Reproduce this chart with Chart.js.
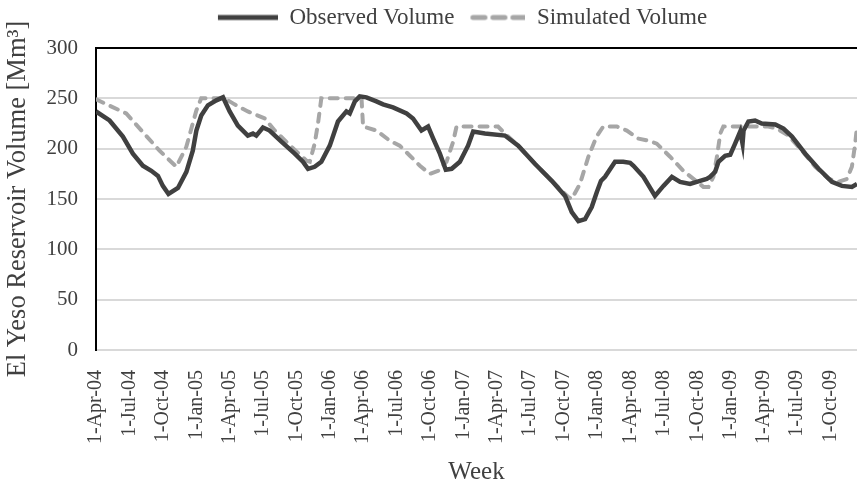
<!DOCTYPE html>
<html>
<head>
<meta charset="utf-8">
<script src="https://cdn.jsdelivr.net/npm/chart.js@4.4.1/dist/chart.umd.min.js"></script>
<style>
	html, body { margin: 0; padding: 0; background: #fff; }
	#wrap { width: 857px; height: 489px; }
</style>
</head>
<body>
<div id="wrap"><canvas id="yesoChart" width="857" height="489"></canvas></div>
<script>
// weeks since 1-Apr-04
var obsWeek = [0, 5.3, 10.5, 14.4, 18.3, 21.6, 24.2, 26.1, 28.3, 32.0, 35.3, 37.8, 39.2, 41.1, 43.7, 47.0, 49.6,
	52.2, 55.4, 59.3, 61.3, 62.6, 65.2, 67.8, 72.4, 77.6, 80.8, 82.8, 85.4, 88.0, 91.3, 94.5, 97.8, 99.1, 101.1, 103.0,
	105.6, 109.5, 112.1, 116.0, 121.3, 123.8, 127.1, 129.7, 131.7, 134.3, 136.6, 138.9, 142.1, 145.3, 147.3, 151.9,
	159.7, 164.9, 171.4, 178.0, 183.2, 185.8, 188.4, 191.0, 193.6, 195.6, 197.2, 198.8, 202.7, 205.9, 208.6, 209.9,
	213.8, 218.3, 221.6, 224.9, 228.1, 232.0, 235.9, 238.5, 239.8, 241.8, 243.1, 245.7, 247.7, 249.6, 251.6, 252.5,
	252.9, 254.8, 257.4, 260.0, 265.3, 268.5, 271.8, 277.0, 282.2, 287.4, 291.3, 295.2, 297.2];
var obsVol = [237, 228, 212, 195, 183, 178, 173, 163, 155, 161, 177, 198, 218, 233, 243, 248, 251,
	237, 223, 213, 215, 213, 221, 218, 207, 195, 187, 180, 182, 187, 203, 227, 237, 235, 247, 252,
	251, 247, 244, 241, 235, 230, 218, 222, 210, 195, 179, 180, 187, 203, 217, 215,
	213, 203, 185, 168, 153, 137, 128, 130, 142, 157, 168, 172, 187, 187, 186, 183,
	172, 153, 163, 172, 167, 165, 168, 170, 172, 177, 187, 193, 194, 205, 217, 205,
	218, 227, 228, 225, 224, 220, 212, 195, 180, 167, 163, 162, 165];

var simWeek = [0, 11.8, 24.8, 31.4, 35.3, 39.2, 41.1, 50.2, 54.1, 59.3, 65.9, 69.8, 76.3, 82.2, 83.5, 85.4, 86.7,
	88.0, 103.7, 104.3, 109.5, 114.7, 118.6, 122.6, 126.5, 130.4, 133.6, 136.9, 139.5, 140.8, 157.0, 159.7, 164.9,
	171.4, 178.0, 184.4, 185.8, 189.0, 192.3, 195.5, 198.1, 203.4, 207.3, 211.8, 215.7, 219.0, 224.2, 229.4, 233.3,
	237.2, 239.2, 241.1, 242.5, 243.8, 245.0, 262.6, 265.9, 270.4, 275.7, 280.9, 286.1, 290.0, 293.3, 295.2, 296.5, 297.2];
var simVol = [249, 235, 198, 182, 202, 238, 250, 250, 244, 237, 230, 218, 202, 188, 187, 205, 225,
	250, 250, 222, 218, 208, 203, 193, 183, 175, 178, 187, 207, 222, 222, 215, 203,
	185, 168, 152, 150, 165, 192, 212, 222, 222, 218, 210, 208, 205, 192, 178, 170,
	162, 162, 172, 192, 215, 222, 222, 220, 213, 198, 182, 170, 167, 170, 182, 205, 222];

var tickLabels = ['1-Apr-04', '1-Jul-04', '1-Oct-04', '1-Jan-05', '1-Apr-05', '1-Jul-05', '1-Oct-05', '1-Jan-06',
	'1-Apr-06', '1-Jul-06', '1-Oct-06', '1-Jan-07', '1-Apr-07', '1-Jul-07', '1-Oct-07', '1-Jan-08', '1-Apr-08',
	'1-Jul-08', '1-Oct-08', '1-Jan-09', '1-Apr-09', '1-Jul-09', '1-Oct-09'];

var monthIdx = {Jan:0, Feb:1, Mar:2, Apr:3, May:4, Jun:5, Jul:6, Aug:7, Sep:8, Oct:9, Nov:10, Dec:11};
var startDay = Date.UTC(2004, 3, 1);

//날짜 라벨 -> 주 번호
function labelToWeek(lbl){
	var p = lbl.split('-');
	var t = Date.UTC(2000 + Number(p[2]), monthIdx[p[1]], Number(p[0]));
	return (t - startDay) / 86400000 / 7;
}
var tickWeeks = tickLabels.map(labelToWeek);

function toPoints(xs, ys){
	return xs.map(function(x, i){ return {x: x, y: ys[i]}; });
}

//범례용 선 이미지
function legendLine(color, len, dash){
	var c = document.createElement('canvas');
	c.width = 64; c.height = 8;
	var g = c.getContext('2d');
	g.strokeStyle = color;
	g.lineWidth = 5;
	if (dash) { g.lineCap = 'round'; g.setLineDash(dash); g.moveTo(64 - len + 2.5, 4); g.lineTo(64, 4); }
	else { g.moveTo(64 - len, 4); g.lineTo(64, 4); }
	g.stroke();
	return c;
}

var serif = "'Liberation Serif', 'Times New Roman', serif";
var textColor = '#404040';

// 범례를 플롯 영역 쪽으로 조금 이동
var legendShift = {
	id: 'legendShift',
	afterLayout: function(chart){
		chart.legend.left = 64;
		chart.legend.top = -1;
	}
};

var ctx = document.getElementById('yesoChart').getContext('2d');
var yesoChart = new Chart(ctx, {
	type: 'line',
	data: {
		datasets: [{
			label: 'Observed Volume',
			data: toPoints(obsWeek, obsVol),
			borderColor: '#404040',
			backgroundColor: '#404040',
			borderWidth: 4.5,
			pointRadius: 0,
			pointStyle: legendLine('#404040', 60),
			tension: 0,
			fill: false
		}, {
			label: 'Simulated Volume',
			data: toPoints(simWeek, simVol),
			borderColor: '#a6a6a6',
			backgroundColor: '#a6a6a6',
			borderWidth: 4,
			borderDash: [8, 8],
			borderCapStyle: 'round',
			pointRadius: 0,
			pointStyle: legendLine('#a6a6a6', 55, [12, 8]),
			tension: 0,
			fill: false
		}]
	},
	plugins: [legendShift],
	options: {
		responsive: false,
		animation: false,
		layout: { padding: 0 },
		plugins: {
			tooltip: { enabled: false },
			legend: {
				position: 'top',
				labels: {
					usePointStyle: true,
					pointStyleWidth: 64,
					padding: 7,
					color: textColor,
					font: { family: serif, size: 23 }
				}
			}
		},
		scales: {
			x: {
				type: 'linear',
				min: 0,
				max: 297.2,
				grid: { display: false },
				border: { display: false },
				afterBuildTicks: function(scale){
					scale.ticks = tickWeeks.map(function(w){ return {value: w}; });
				},
				afterFit: function(scale){
					scale.height = 139;
					scale.paddingLeft = 0;
					scale.paddingRight = 0;
				},
				ticks: {
					autoSkip: false,
					maxRotation: 90,
					minRotation: 90,
					padding: 12,
					color: textColor,
					font: { family: serif, size: 20 },
					callback: function(value, index){ return tickLabels[index]; }
				},
				title: {
					display: true,
					text: 'Week',
					color: textColor,
					font: { family: serif, size: 25 },
					padding: { top: 0, bottom: 2 }
				}
			},
			y: {
				min: 0,
				max: 300,
				afterFit: function(scale){
					scale.width = 96;
					scale.paddingTop = 48;
				},
				grid: {
					drawTicks: false,
					lineWidth: 2,
					color: function(c){ return c.tick && c.tick.value === 300 ? '#000000' : '#d9d9d9'; }
				},
				border: { display: true, color: '#000000', width: 2 },
				ticks: {
					stepSize: 50,
					padding: 18,
					color: textColor,
					font: { family: serif, size: 21 }
				},
				title: {
					display: true,
					text: 'El Yeso Reservoir Volume [Mm\u00b3]',
					color: textColor,
					font: { family: serif, size: 26.5 },
					padding: { top: 2, bottom: 0 }
				}
			}
		}
	}
});
</script>
</body>
</html>
